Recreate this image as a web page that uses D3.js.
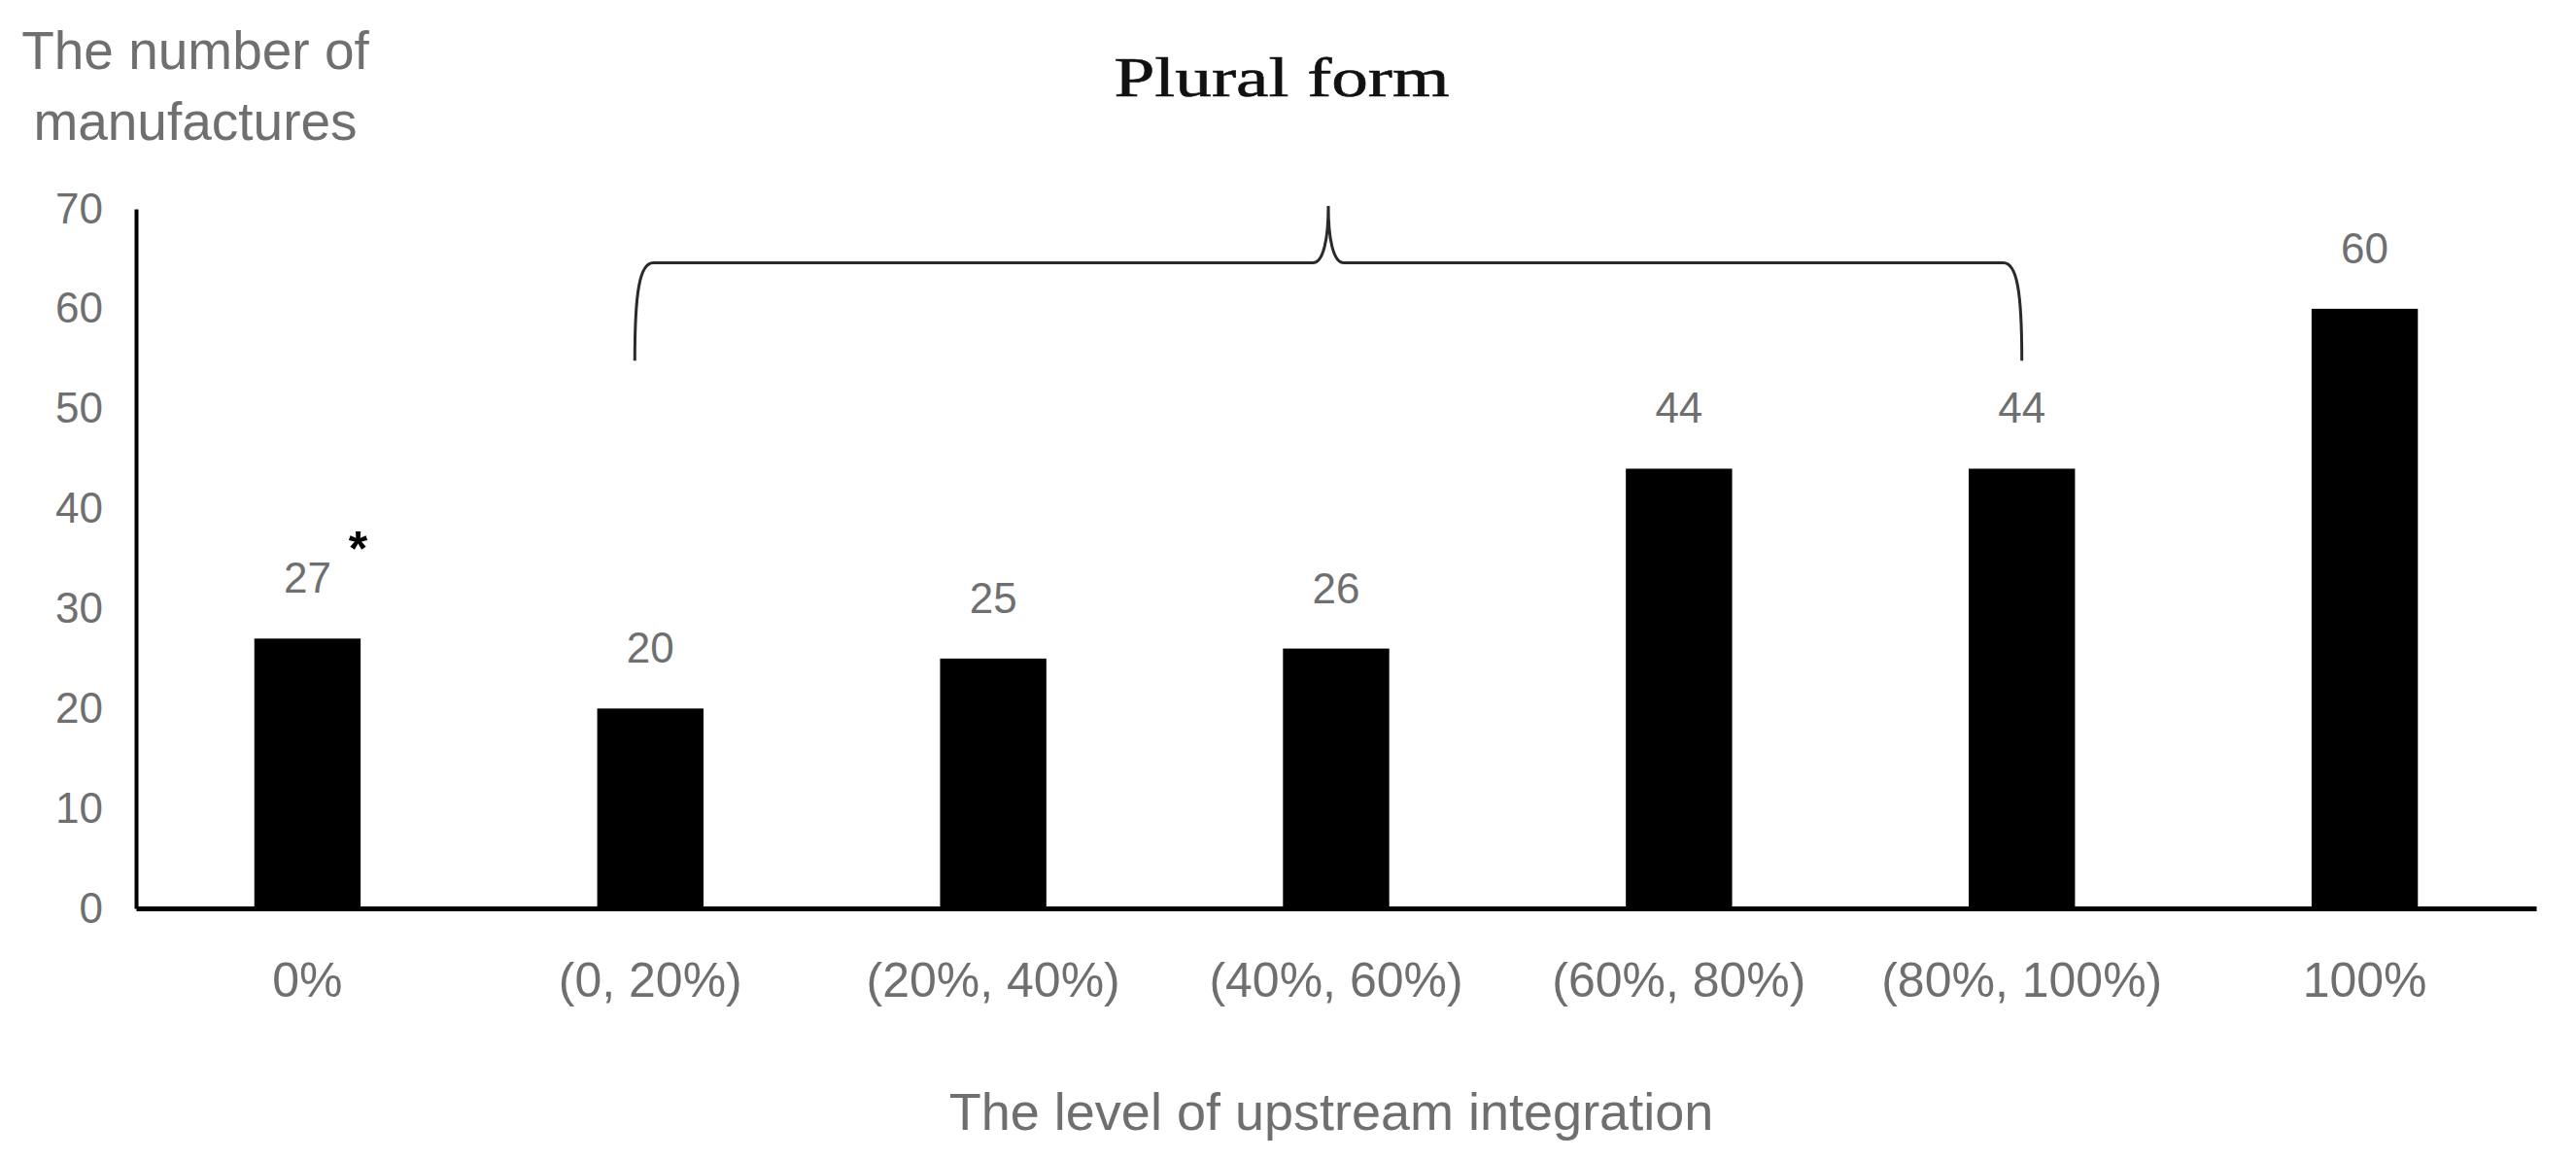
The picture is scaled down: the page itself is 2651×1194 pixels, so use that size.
<!DOCTYPE html>
<html>
<head>
<meta charset="utf-8">
<script src="https://cdn.jsdelivr.net/npm/d3@7"></script>
<style>
  html, body { margin: 0; padding: 0; background: #fff; }
  svg { display: block; }
</style>
</head>
<body>
<svg id="chart" width="2651" height="1194"></svg>
<script>
// ---- data ----
const categories = ["0%", "(0, 20%)", "(20%, 40%)", "(40%, 60%)", "(60%, 80%)", "(80%, 100%)", "100%"];
const values = [27, 20, 25, 26, 44, 44, 60];
const yTicks = [0, 10, 20, 30, 40, 50, 60, 70];
const yTitleLines = ["The number of", "manufactures"];
const xTitle = "The level of upstream integration";
const braceLabel = "Plural form";
const braceFrom = "(0, 20%)";
const braceTo = "(80%, 100%)";
const markedCategory = "0%";
const markText = "*";

(function () {
// ---- layout ----
const svg = d3.select("#chart");
const pLeft = 140, pRight = 2610, pBottom = 935, pTop = 215;
const fontSans = "'Liberation Sans', Arial, Helvetica, sans-serif";
const gray = "#6f6f6f";

const x = d3.scaleBand().domain(categories).range([pLeft, pRight]).paddingInner(0.69).paddingOuter(0.345);
const y = d3.scaleLinear().domain([0, 70]).range([pBottom, pTop]);

// bars
svg.append("g").selectAll("rect").data(values).join("rect")
  .attr("x", (d, i) => x(categories[i]))
  .attr("y", d => y(d))
  .attr("width", x.bandwidth())
  .attr("height", d => y(0) - y(d))
  .attr("fill", "#000");

// y axis
const yAxis = svg.append("g").attr("transform", `translate(${pLeft},0)`)
  .call(d3.axisLeft(y).tickValues(yTicks).tickSize(0).tickSizeOuter(0).tickPadding(34));
yAxis.select(".domain").attr("stroke", "#000").attr("stroke-width", 4);
yAxis.selectAll("text").attr("font-family", fontSans).attr("font-size", 44).attr("fill", gray);

// x axis
const xAxis = svg.append("g").attr("transform", `translate(0,${pBottom})`)
  .call(d3.axisBottom(x).tickSize(0).tickSizeOuter(0).tickPadding(55));
xAxis.select(".domain").attr("stroke", "#000").attr("stroke-width", 5);
xAxis.selectAll("text").attr("font-family", fontSans).attr("font-size", 50).attr("fill", gray);

// value labels
svg.append("g").selectAll("text").data(values).join("text")
  .attr("x", (d, i) => x(categories[i]) + x.bandwidth() / 2)
  .attr("y", d => y(d) - 47)
  .attr("text-anchor", "middle")
  .attr("font-family", fontSans).attr("font-size", 44).attr("fill", gray)
  .text(d => d);

// asterisk
const mi = categories.indexOf(markedCategory);
svg.append("text")
  .attr("x", x(markedCategory) + x.bandwidth() / 2 + 52)
  .attr("y", y(values[mi]) - 47 - 28)
  .attr("text-anchor", "middle")
  .attr("font-family", fontSans).attr("font-size", 50).attr("font-weight", "bold").attr("fill", "#000")
  .text(markText);

// brace
const bx0 = x(braceFrom) + x.bandwidth() / 2 - 16;
const bx1 = x(braceTo) + x.bandwidth() / 2;
const bm = (bx0 + bx1) / 2;
const yb = y(54.8), yl = y(64.6), yp = y(70.3);
const p = d3.path();
p.moveTo(bx0, yb);
p.bezierCurveTo(bx0, yl + 30, bx0 + 5, yl, bx0 + 19, yl);
p.lineTo(bm - 16, yl);
p.bezierCurveTo(bm - 5, yl, bm, yl - 25, bm, yp);
p.bezierCurveTo(bm, yl - 25, bm + 5, yl, bm + 16, yl);
p.lineTo(bx1 - 19, yl);
p.bezierCurveTo(bx1 - 5, yl, bx1, yl + 30, bx1, yb);
svg.append("path").attr("d", p.toString()).attr("fill", "none")
  .attr("stroke", "#2a2a2a").attr("stroke-width", 3);

// brace label
svg.append("text")
  .attr("x", bm - 48).attr("y", 99)
  .attr("text-anchor", "middle")
  .attr("font-family", "'Liberation Serif', 'Times New Roman', serif")
  .attr("font-size", 56).attr("fill", "#111")
  .attr("stroke", "#111").attr("stroke-width", 0.6)
  .attr("textLength", 345).attr("lengthAdjust", "spacingAndGlyphs")
  .text(braceLabel);

// y title
svg.append("g").selectAll("text").data(yTitleLines).join("text")
  .attr("x", 201).attr("y", (d, i) => 71 + i * 73)
  .attr("text-anchor", "middle")
  .attr("font-family", fontSans).attr("font-size", 55).attr("fill", gray)
  .text(d => d);

// x title
svg.append("text")
  .attr("x", (pLeft + pRight) / 2 - 5).attr("y", 1163)
  .attr("text-anchor", "middle")
  .attr("font-family", fontSans).attr("font-size", 54).attr("fill", gray)
  .text(xTitle);
})();
</script>
</body>
</html>
